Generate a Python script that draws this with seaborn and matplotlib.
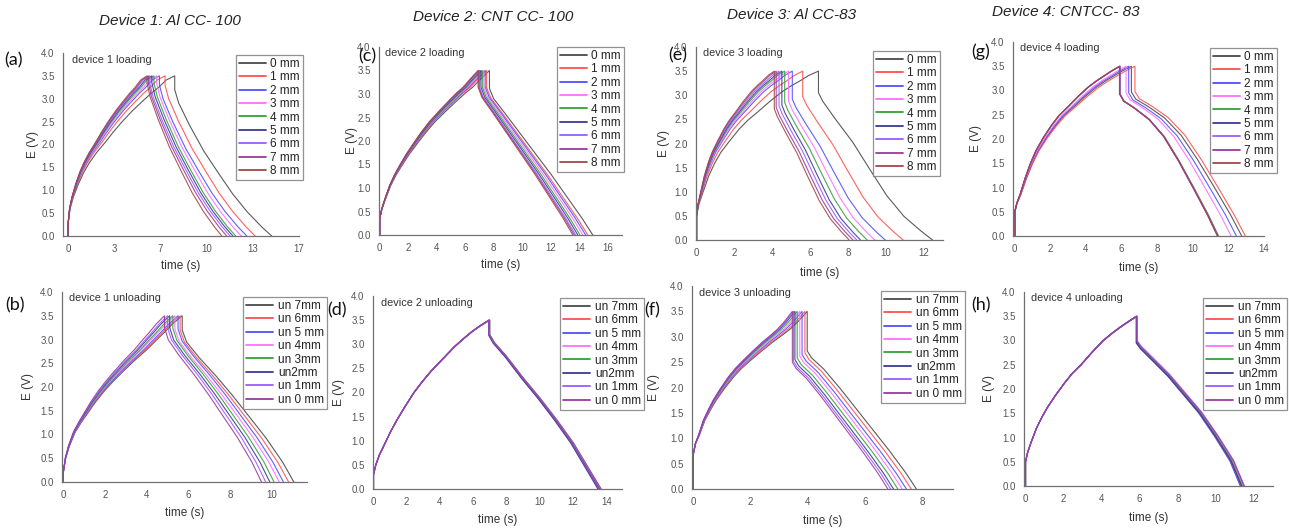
import matplotlib
matplotlib.use("Agg")
import matplotlib.pyplot as plt
from matplotlib.lines import Line2D
from matplotlib.ticker import MultipleLocator, AutoMinorLocator, FormatStrFormatter
import pandas as pd
import seaborn as sns

# ---- legend labels / colours (Origin default order) ----
LOAD_LABELS = ["0 mm", "1 mm", "2 mm", "3 mm", "4 mm", "5 mm", "6 mm", "7 mm", "8 mm"]
UNLOAD_LABELS = ["un 7mm", "un 6mm", "un 5 mm", "un 4mm", "un 3mm", "un2mm", "un 1mm", "un 0 mm"]
SERIES_COLORS = ["#4a4a4a", "#ff5050", "#4f4fff", "#ff70ff", "#35a035",
                 "#3a3a95", "#9a5cff", "#9b3a9b", "#a04848"]

# shared fraction grids for the charge and the discharge branch
CH_FRAC = [0, 0, 0.02, 0.05, 0.1, 0.15, 0.2, 0.27, 0.35, 0.42, 0.5, 0.6, 0.7, 0.78, 0.85, 0.92, 1.0]
DIS_FRAC = [0, 0.04, 0.15, 0.3, 0.45, 0.6, 0.75, 0.9, 1.0]

# ---- (a) device 1 loading ----
A_TCHARGE = [7.7, 7.0, 6.6, 6.4, 6.2, 6.05, 5.9, 5.8, 5.7]
A_VDROP = [3.2, 3.3, 3.3, 3.33, 3.35, 3.35, 3.35, 3.35, 3.35]
A_TEND = [14.7, 13.5, 12.9, 12.5, 12.1, 11.9, 11.7, 11.45, 11.1]
A_CHARGE_E = [0, 0.25, 0.6, 0.85, 1.15, 1.4, 1.6, 1.83, 2.05, 2.26, 2.48, 2.73, 2.95, 3.12, 3.25, 3.41, 3.5]
A_DISCH_E = [1, 0.91, 0.76, 0.58, 0.43, 0.285, 0.163, 0.06, 0]

# ---- (b) device 1 unloading ----
B_TCHARGE = [5.7, 5.6, 5.5, 5.35, 5.25, 5.1, 5.0, 4.85]
B_VDROP = [3.2, 3.2, 3.22, 3.22, 3.24, 3.25, 3.25, 3.25]
B_TEND = [11.05, 10.8, 10.55, 10.35, 10.1, 9.9, 9.7, 9.5]
B_CHARGE_E = [0, 0.2, 0.5, 0.75, 1.05, 1.25, 1.43, 1.68, 1.93, 2.12, 2.32, 2.56, 2.78, 2.98, 3.15, 3.33, 3.5]
B_DISCH_E = [1, 0.92, 0.82, 0.7, 0.57, 0.43, 0.29, 0.13, 0]

# ---- (c) device 2 loading ----
C_TCHARGE = [7.7, 7.5, 7.4, 7.3, 7.2, 7.1, 7.0, 6.95, 6.9]
C_VDROP = [3.12, 3.14, 3.15, 3.15, 3.15, 3.15, 3.15, 3.15, 3.15]
C_TEND = [14.95, 14.6, 14.45, 14.25, 14.05, 13.9, 13.75, 13.65, 13.55]
C_CHARGE_E = [0, 0.35, 0.55, 0.75, 1.05, 1.28, 1.47, 1.72, 1.97, 2.18, 2.4, 2.63, 2.85, 3.02, 3.15, 3.32, 3.5]
C_DISCH_E = [1, 0.93, 0.83, 0.69, 0.55, 0.41, 0.26, 0.11, 0]

# ---- (d) device 2 unloading ----
D_TCHARGE = [7.0, 6.98, 6.96, 6.95, 6.97, 6.94, 6.96, 6.95]
D_VDROP = [3.2, 3.2, 3.18, 3.2, 3.2, 3.18, 3.2, 3.2]
D_TEND = [13.7, 13.65, 13.55, 13.6, 13.62, 13.5, 13.66, 13.6]
D_CHARGE_E = [0, 0.3, 0.5, 0.7, 0.95, 1.2, 1.42, 1.7, 2.0, 2.22, 2.45, 2.7, 2.95, 3.12, 3.26, 3.38, 3.5]
D_DISCH_E = [1, 0.95, 0.86, 0.72, 0.59, 0.45, 0.30, 0.12, 0]

# ---- (e) device 3 loading ----
E_TCHARGE = [6.43, 5.6, 5.05, 4.85, 4.65, 4.5, 4.35, 4.2, 4.1]
E_VDROP = [3.05, 2.97, 2.92, 2.88, 2.85, 2.8, 2.78, 2.75, 2.72]
E_TEND = [12.45, 10.9, 9.95, 9.4, 9.0, 8.65, 8.45, 8.25, 8.05]
E_CHARGE_E = [0, 0.5, 0.75, 0.97, 1.33, 1.6, 1.82, 2.05, 2.3, 2.48, 2.65, 2.87, 3.07, 3.2, 3.3, 3.41, 3.5]
E_DISCH_E = [1, 0.94, 0.82, 0.665, 0.48, 0.30, 0.16, 0.06, 0]

# ---- (f) device 3 unloading ----
F_TCHARGE = [3.98, 3.9, 3.8, 3.72, 3.63, 3.55, 3.5, 3.46]
F_VDROP = [2.72, 2.68, 2.65, 2.62, 2.58, 2.55, 2.52, 2.5]
F_TEND = [7.8, 7.62, 7.45, 7.3, 7.15, 7.0, 6.9, 6.8]
F_CHARGE_E = [0, 0.7, 0.9, 1.05, 1.35, 1.56, 1.75, 1.97, 2.2, 2.37, 2.53, 2.72, 2.9, 3.03, 3.15, 3.3, 3.5]
F_DISCH_E = [1, 0.95, 0.87, 0.73, 0.58, 0.43, 0.28, 0.12, 0]

# ---- (g) device 4 loading ----
G_TCHARGE = [6.55, 6.75, 6.4, 6.25, 5.9, 5.9, 5.92, 5.88, 5.9]
G_VDROP = [2.97, 2.98, 2.95, 2.95, 2.93, 2.93, 2.93, 2.93, 2.93]
G_TEND = [12.75, 12.95, 12.45, 12.15, 11.45, 11.4, 11.42, 11.38, 11.4]
G_CHARGE_E = [0, 0.5, 0.68, 0.85, 1.2, 1.5, 1.75, 2.02, 2.28, 2.48, 2.65, 2.87, 3.07, 3.2, 3.3, 3.4, 3.5]
G_DISCH_E = [1, 0.95, 0.9, 0.82, 0.70, 0.53, 0.34, 0.145, 0]

# ---- (h) device 4 unloading ----
H_TCHARGE = [5.85, 5.83, 5.82, 5.84, 5.83, 5.82, 5.86, 5.85]
H_VDROP = [2.97, 2.95, 2.95, 2.98, 2.96, 2.95, 3.0, 2.98]
H_TEND = [11.35, 11.3, 11.28, 11.45, 11.4, 11.35, 11.5, 11.48]
H_CHARGE_E = [0, 0.5, 0.7, 0.9, 1.2, 1.43, 1.63, 1.87, 2.12, 2.32, 2.5, 2.76, 3.0, 3.15, 3.27, 3.38, 3.5]
H_DISCH_E = [1, 0.96, 0.88, 0.77, 0.64, 0.51, 0.35, 0.175, 0]

TITLES = ["Device 1: Al CC- 100", "Device 2: CNT CC- 100", "Device 3: Al CC-83", "Device 4: CNTCC- 83"]

W, H = 1289, 531


def build_curves(labels, tcharge, vdrop, tend, charge_e, disch_e):
    rows = []
    for lab, tc, vd, te in zip(labels, tcharge, vdrop, tend):
        for f, e in zip(CH_FRAC, charge_e):
            rows.append((lab, tc * f, e))
        for f, e in zip(DIS_FRAC, disch_e):
            rows.append((lab, tc + (te - tc) * f, vd * e))
    return pd.DataFrame(rows, columns=["curve", "time", "E"])


def px_rect(x0, y0, x1, y1):
    return [x0 / W, 1 - y1 / H, (x1 - x0) / W, (y1 - y0) / H]


sns.set_style("white")
plt.rcParams["font.family"] = ["Liberation Sans", "DejaVu Sans"]

fig = plt.figure(figsize=(W / 100, H / 100), dpi=100)

panels = [
    # letter, axes px, data, labels, xlim, xstep, note, letter xy, note xy, legend anchor, ylab off, xlab off
    ("(a)", (63, 53, 299, 236), (A_TCHARGE, A_VDROP, A_TEND, A_CHARGE_E, A_DISCH_E), LOAD_LABELS,
     (-0.36, 50 / 3), 10 / 3, "device 1 loading", (4, 60), (72, 60), (303, 55), 29, 24),
    ("(b)", (62, 292, 307, 482), (B_TCHARGE, B_VDROP, B_TEND, B_CHARGE_E, B_DISCH_E), UNLOAD_LABELS,
     (-0.06, 11.68), 2, "device 1 unloading", (5, 305), (69, 298), (327, 297), 33, 25),
    ("(c)", (379, 47, 622, 235), (C_TCHARGE, C_VDROP, C_TEND, C_CHARGE_E, C_DISCH_E), LOAD_LABELS,
     (-0.05, 17.0), 2, "device 2 loading", (358, 56), (385, 53), (624, 47), 26, 24),
    ("(d)", (373, 296, 622, 489), (D_TCHARGE, D_VDROP, D_TEND, D_CHARGE_E, D_DISCH_E), UNLOAD_LABELS,
     (-0.03, 14.95), 2, "device 2 unloading", (327, 310), (381, 303), (644, 298), 33, 25),
    ("(e)", (696, 47, 943, 240), (E_TCHARGE, E_VDROP, E_TEND, E_CHARGE_E, E_DISCH_E), LOAD_LABELS,
     (-0.03, 13.0), 2, "device 3 loading", (668, 55), (703, 53), (940, 51), 31, 27),
    ("(f)", (692, 286, 953, 489), (F_TCHARGE, F_VDROP, F_TEND, F_CHARGE_E, F_DISCH_E), UNLOAD_LABELS,
     (-0.05, 9.08), 2, "device 3 unloading", (644, 310), (699, 293), (965, 291), 37, 26),
    ("(g)", (1013, 42, 1264, 236), (G_TCHARGE, G_VDROP, G_TEND, G_CHARGE_E, G_DISCH_E), LOAD_LABELS,
     (-0.1, 14.0), 2, "device 4 loading", (971, 52), (1020, 48), (1277, 48), 36, 26),
    ("(h)", (1024, 292, 1273, 486), (H_TCHARGE, H_VDROP, H_TEND, H_CHARGE_E, H_DISCH_E), UNLOAD_LABELS,
     (-0.08, 13.0), 2, "device 4 unloading", (971, 305), (1031, 298), (1287, 298), 34, 26),
]

for letter, box, data, labels, xlim, xstep, note, lxy, nxy, leg_xy, ylab_off, xlab_off in panels:
    ax = fig.add_axes(px_rect(*box))
    df = build_curves(labels, *data)
    colors = SERIES_COLORS[:len(labels)]
    sns.lineplot(data=df, x="time", y="E", hue="curve", hue_order=labels, palette=colors,
                 sort=False, estimator=None, linewidth=0.8, alpha=0.9, legend=False, ax=ax)

    ax.set_xlim(*xlim)
    ax.set_ylim(0, 4.0)
    ax.xaxis.set_major_locator(MultipleLocator(xstep))
    ax.xaxis.set_major_formatter(FormatStrFormatter("%.0f"))
    ax.xaxis.set_minor_locator(AutoMinorLocator(2))
    ax.yaxis.set_major_locator(MultipleLocator(0.5))
    ax.yaxis.set_major_formatter(FormatStrFormatter("%.1f"))
    ax.yaxis.set_minor_locator(AutoMinorLocator(2))

    for side in ("top", "right"):
        ax.spines[side].set_visible(False)
    for side in ("left", "bottom"):
        ax.spines[side].set_color("#707070")
        ax.spines[side].set_linewidth(0.9)
    ax.tick_params(which="major", direction="out", length=4, width=0.8, color="#707070",
                   labelsize=7, labelcolor="#555555", pad=2)
    ax.tick_params(which="minor", direction="out", length=2, width=0.7, color="#707070")

    bw = box[2] - box[0]
    bh = box[3] - box[1]
    ax.set_xlabel("time (s)", fontsize=8.5, color="#333333")
    ax.set_ylabel("E (V)", fontsize=8.5, color="#333333")
    ax.xaxis.set_label_coords(0.5, -xlab_off / bh)
    ax.yaxis.set_label_coords(-(ylab_off - 5) / bw, 0.5)

    handles = [Line2D([0], [0], color=c, lw=1.3) for c in colors]
    leg = ax.legend(handles, labels, loc="upper right",
                    bbox_to_anchor=(leg_xy[0] / W, 1 - leg_xy[1] / H), bbox_transform=fig.transFigure,
                    frameon=True, fancybox=False, edgecolor="#777777", fontsize=8.5,
                    handlelength=2.3, handletextpad=0.4, labelspacing=0.12,
                    borderpad=0.25, borderaxespad=0)
    leg.get_frame().set_linewidth(0.9)
    for t in leg.get_texts():
        t.set_color("#222222")

    fig.text(lxy[0] / W, 1 - lxy[1] / H, letter, fontsize=13, ha="left", va="center",
             family=["Lato", "DejaVu Sans"], color="#111111")
    fig.text(nxy[0] / W, 1 - nxy[1] / H, note, fontsize=7.8, ha="left", va="center", color="#333333")

for title, cx, cy in zip(TITLES, [170, 493, 792, 1066], [21, 17, 15, 12]):
    fig.text(cx / W, 1 - cy / H, title, fontsize=11, style="italic", ha="center", va="center",
             color="#222222")

fig.savefig("out.png", dpi=100)
